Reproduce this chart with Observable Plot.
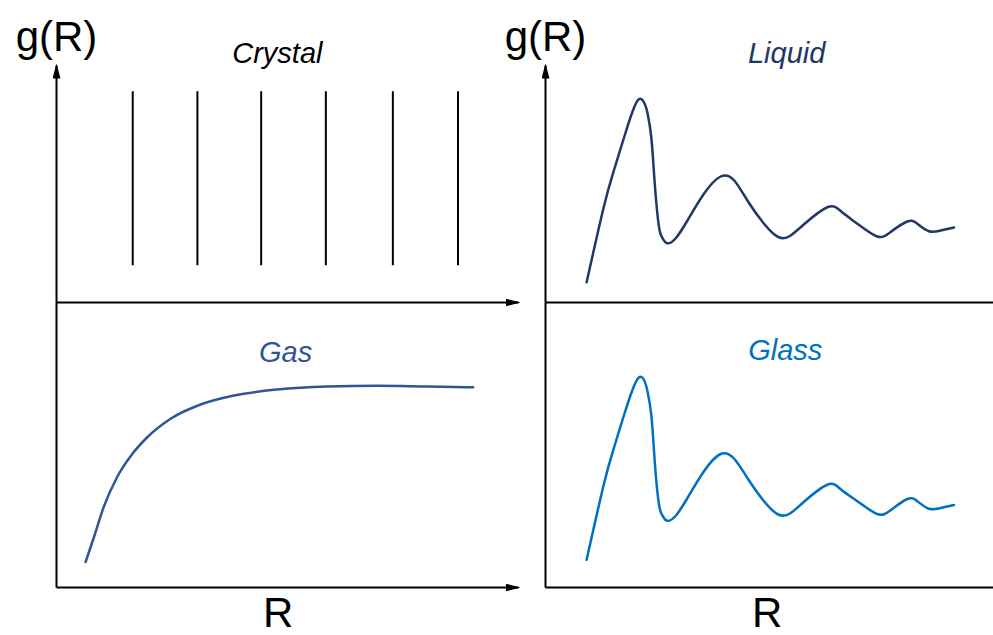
<!DOCTYPE html>
<html>
<head>
<meta charset="utf-8">
<script src="https://cdn.jsdelivr.net/npm/d3@7"></script>
<script src="https://cdn.jsdelivr.net/npm/@observablehq/plot@0.6"></script>
<style>
  html, body { margin: 0; padding: 0; background: #fff; overflow: hidden; }
  #chart svg { display: block; }
</style>
</head>
<body>
<div id="chart"></div>
<script>
// ---- data (R in arbitrary units, g(R) in arbitrary units) ----
const crystalR = [1.65, 3.05, 4.43, 5.83, 7.28, 8.69];
const crystalLow = [0.49, 0.49, 0.49, 0.49, 0.49, 0.49];
const crystalHigh = [2.81, 2.81, 2.81, 2.81, 2.81, 2.81];

const liquidR = [0.89, 1.26, 1.48, 1.70, 1.88, 2.02, 2.13, 2.21, 2.29, 2.34, 2.40, 2.47, 2.54, 2.63, 2.81, 3.07, 3.43, 3.79, 4.08, 4.37, 4.73, 5.05, 5.30, 5.59, 6.10, 6.39, 6.75, 7.18, 7.47, 7.83, 8.05, 8.30, 8.55, 8.84];
const liquidG = [0.27, 1.27, 1.76, 2.20, 2.54, 2.71, 2.67, 2.52, 2.20, 1.80, 1.32, 0.96, 0.85, 0.79, 0.85, 1.09, 1.45, 1.68, 1.63, 1.36, 1.05, 0.87, 0.89, 1.04, 1.27, 1.22, 1.05, 0.88, 0.94, 1.08, 1.05, 0.95, 0.96, 1.00];

const glassR = [0.89, 1.26, 1.48, 1.70, 1.88, 2.02, 2.13, 2.21, 2.29, 2.34, 2.40, 2.47, 2.54, 2.63, 2.81, 3.07, 3.43, 3.79, 4.08, 4.37, 4.73, 5.05, 5.30, 5.59, 6.10, 6.39, 6.75, 7.18, 7.47, 7.83, 8.05, 8.30, 8.55, 8.84];
const glassG = [0.37, 1.37, 1.86, 2.30, 2.63, 2.80, 2.77, 2.61, 2.30, 1.90, 1.41, 1.06, 0.95, 0.89, 0.95, 1.19, 1.55, 1.78, 1.72, 1.46, 1.15, 0.97, 0.99, 1.14, 1.37, 1.31, 1.15, 0.98, 1.03, 1.18, 1.15, 1.05, 1.06, 1.10];

const gasR = [0.63, 0.81, 1.02, 1.31, 1.64, 1.96, 2.47, 3.12, 3.84, 4.78, 5.86, 6.94, 8.02, 9.02];
const gasG = [0.34, 0.67, 1.07, 1.47, 1.78, 2.00, 2.25, 2.44, 2.56, 2.64, 2.68, 2.69, 2.68, 2.67];

const panelNames = ["Crystal", "Liquid", "Gas", "Glass"];
const panelCols = ["left", "right", "left", "right"];
const panelRows = ["top", "top", "bottom", "bottom"];
const panelColors = ["#000000", "#203864", "#2F5597", "#0070C0"];

const yLabel = "g(R)";
const xLabel = "R";

// ---- tables ----
const zip = (rs, gs, col, row) => rs.map((r, i) => ({r, g: gs[i], col, row}));
const crystal = crystalR.map((r, i) => ({r, lo: crystalLow[i], hi: crystalHigh[i], col: "left", row: "top"}));
const liquid = zip(liquidR, liquidG, "right", "top");
const glass = zip(glassR, glassG, "right", "bottom");
const gas = zip(gasR, gasG, "left", "bottom");

const titles = panelNames.map((name, i) => ({
  name, col: panelCols[i], row: panelRows[i], color: panelColors[i],
  r: [4.78, 5.22, 4.96, 5.19][i], g: [3.2, 3.2, 3.01, 3.04][i]
}));

const cols = ["left", "right"];
const xAxes = cols.flatMap(col => ["top", "bottom"].map(row => ({col, row, x1: 0, y1: 0, x2: 10, y2: 0})));
const yArrows = cols.map(col => ({col, row: "top", x1: 0, y1: 0, x2: 0, y2: 3.16}));
const yLines = cols.map(col => ({col, row: "bottom", x1: 0, y1: 0, x2: 0, y2: 3.8}));
const yLabels = cols.map(col => ({col, row: "top", text: yLabel}));
const xLabels = cols.map(col => ({col, row: "bottom", text: xLabel}));

function arrowHead(color, context) {
  const ns = "http://www.w3.org/2000/svg";
  const doc = (context && context.document) || document;
  const m = doc.createElementNS(ns, "marker");
  m.setAttribute("viewBox", "0 0 15 8");
  m.setAttribute("refX", "13");
  m.setAttribute("refY", "4");
  m.setAttribute("markerWidth", "15");
  m.setAttribute("markerHeight", "8");
  m.setAttribute("markerUnits", "userSpaceOnUse");
  m.setAttribute("orient", "auto");
  const p = doc.createElementNS(ns, "path");
  p.setAttribute("d", "M0,0L15,4L0,8Z");
  p.setAttribute("fill", color);
  p.setAttribute("stroke", "none");
  m.appendChild(p);
  return m;
}

const font = "'Liberation Sans', Arial, Helvetica, sans-serif";

const plot = Plot.plot({
  width: 993,
  height: 635,
  marginLeft: 56,
  marginRight: -14,
  marginTop: 17,
  marginBottom: 48,
  x: {domain: [0, 10], axis: null},
  y: {domain: [0, 3.8], axis: null},
  fx: {domain: cols, axis: null, paddingInner: 27 / 489, paddingOuter: 0, round: false},
  fy: {domain: ["top", "bottom"], axis: null, padding: 0, round: false},
  style: {fontFamily: font, background: "white", overflow: "hidden"},
  marks: [
    // axes
    Plot.link(xAxes, {x1: "x1", y1: "y1", x2: "x2", y2: "y2", fx: "col", fy: "row", stroke: "black", strokeWidth: 2, markerEnd: arrowHead}),
    Plot.link(yArrows, {x1: "x1", y1: "y1", x2: "x2", y2: "y2", fx: "col", fy: "row", stroke: "black", strokeWidth: 2, markerEnd: arrowHead}),
    Plot.link(yLines, {x1: "x1", y1: "y1", x2: "x2", y2: "y2", fx: "col", fy: "row", stroke: "black", strokeWidth: 2}),
    // crystal peaks
    Plot.ruleX(crystal, {x: "r", y1: "lo", y2: "hi", fx: "col", fy: "row", stroke: "black", strokeWidth: 2}),
    // curves
    Plot.line(liquid, {x: "r", y: "g", fx: "col", fy: "row", stroke: panelColors[1], strokeWidth: 2.5, curve: "natural"}),
    Plot.line(gas, {x: "r", y: "g", fx: "col", fy: "row", stroke: panelColors[2], strokeWidth: 2.5, curve: "monotone-x"}),
    Plot.line(glass, {x: "r", y: "g", fx: "col", fy: "row", stroke: panelColors[3], strokeWidth: 2.5, curve: "natural"}),
    // panel titles
    Plot.text(titles, {x: "r", y: "g", fx: "col", fy: "row", text: "name", fill: "color", fontSize: 29, fontStyle: "italic", lineAnchor: "bottom"}),
    // axis labels
    Plot.text(yLabels, {x: 0, y: 3.36, fx: "col", fy: "row", text: "text", fill: "black", fontSize: 42, lineAnchor: "bottom"}),
    Plot.text(xLabels, {x: 4.8, y: -0.53, fx: "col", fy: "row", text: "text", fill: "black", fontSize: 42, lineAnchor: "bottom"})
  ]
});
document.getElementById("chart").appendChild(plot);
</script>
</body>
</html>
